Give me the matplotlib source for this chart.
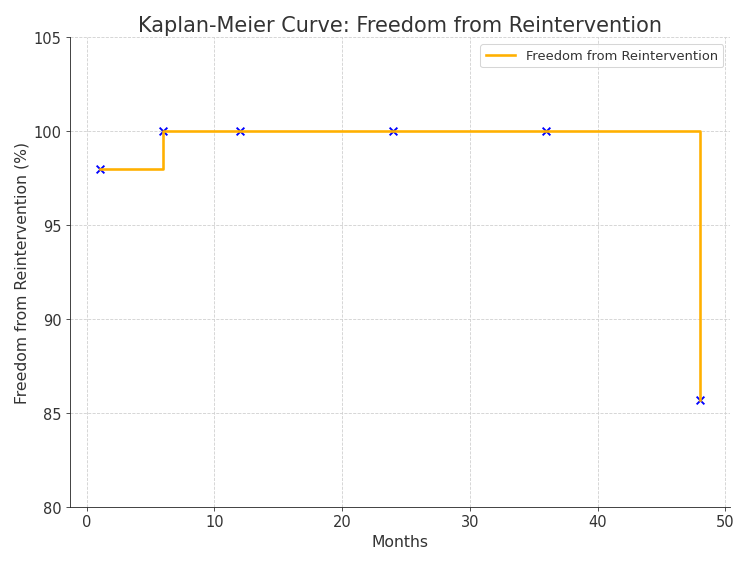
import matplotlib
matplotlib.use("Agg")
import matplotlib.pyplot as plt

months = [1, 6, 12, 24, 36, 48]
freedom = [98.0, 100.0, 100.0, 100.0, 100.0, 85.7]

plt.rcParams['text.color'] = '#333333'
plt.rcParams['axes.labelcolor'] = '#333333'
plt.rcParams['xtick.color'] = '#333333'
plt.rcParams['ytick.color'] = '#333333'

fig, ax = plt.subplots(figsize=(10, 7.5), dpi=75)
ax.scatter(months, freedom, marker='x', color='blue', s=55, linewidths=1.8, zorder=2)
ax.step(months, freedom, where='post', color='#FFB000', linewidth=2.5,
        label='Freedom from Reintervention', zorder=3)
ax.set_title('Kaplan-Meier Curve: Freedom from Reintervention', fontsize=20)
ax.set_xlabel('Months', fontsize=15)
ax.set_ylabel('Freedom from Reintervention (%)', fontsize=15)
ax.set_ylim(80, 105)
ax.tick_params(labelsize=14, length=4)
ax.grid(True, linestyle='--', color='#d0d0d0', linewidth=0.8)
ax.spines['top'].set_visible(False)
ax.spines['right'].set_visible(False)
for s in ('left', 'bottom'):
    ax.spines[s].set_color('#222222')
ax.legend(loc='upper right', fontsize=12.5, handlelength=2.3)
fig.subplots_adjust(left=0.0927, right=0.973, top=0.9325, bottom=0.0977)
fig.savefig('out.png')
